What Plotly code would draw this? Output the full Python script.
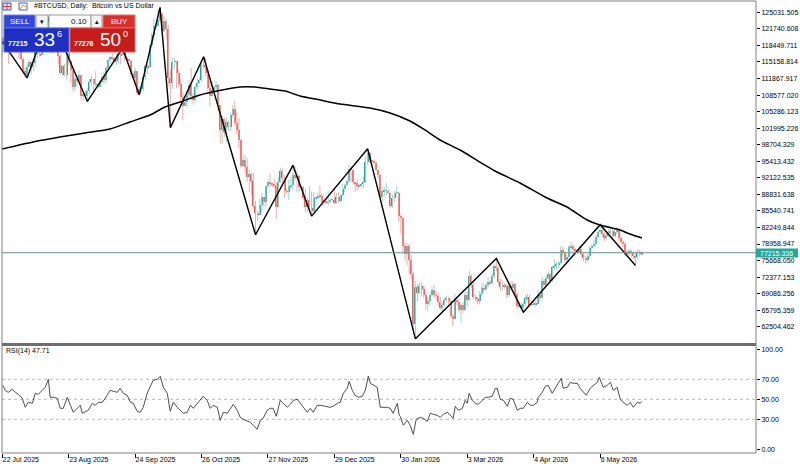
import plotly.graph_objects as go
import pandas as pd

# ---------------- data (prices in thousands of USD) ----------------
start_date = "2025-07-22"
first_open_k = 117.4

close_k = [
    # Jul 22-31 2025
    119.9,118.7,118.3,117.6,117.9,119.4,118.0,117.9,117.8,115.8,
    # Aug
    113.3,112.6,114.2,115.1,114.1,115.0,117.5,116.7,116.5,119.3,118.7,120.2,123.3,118.4,117.4,117.5,
    117.5,116.3,112.9,114.3,112.5,116.9,115.4,113.5,110.1,111.8,111.3,112.6,108.4,108.8,108.3,
    # Sep
    109.3,111.2,111.7,110.7,110.7,110.2,111.2,112.1,111.5,113.9,115.5,116.1,115.9,115.3,115.4,
    116.8,116.5,117.1,115.7,115.7,115.3,112.7,112.0,113.3,109.0,109.7,109.7,112.1,114.4,114.1,
    # Oct
    118.6,120.6,122.3,122.4,123.5,124.7,121.4,123.3,121.7,112.0,110.9,115.2,115.3,113.0,110.8,
    108.2,106.4,107.2,108.6,110.5,108.4,107.6,110.1,111.0,111.6,114.5,114.1,112.9,110.0,108.3,109.6,
    # Nov
    110.1,110.6,106.5,101.6,103.9,101.3,103.3,102.3,104.7,105.9,103.0,101.7,99.7,94.5,95.6,
    94.2,92.2,92.9,91.5,86.6,85.1,84.7,86.8,88.3,87.3,90.5,91.3,90.9,90.8,90.4,
    # Dec
    86.3,91.3,93.5,92.1,89.4,89.3,90.4,90.6,92.7,92.0,92.5,90.3,90.3,88.2,86.4,87.8,
    86.1,85.5,88.1,88.3,88.6,88.5,87.4,87.6,87.2,87.3,87.8,87.8,87.1,88.4,87.5,
    # Jan 2026
    88.7,89.9,90.6,91.4,93.9,93.7,91.3,91.0,90.5,90.4,90.8,91.2,95.3,97.0,95.6,95.5,
    95.1,93.6,92.6,88.3,89.4,89.5,89.5,89.2,86.6,88.2,89.1,89.2,84.5,84.1,78.6,
    # Feb
    76.9,78.6,75.7,73.0,63.0,70.5,69.3,70.6,70.1,68.8,67.0,67.6,68.9,69.8,
    68.8,68.7,67.5,66.3,66.9,67.9,68.2,67.6,64.7,64.1,67.9,67.5,65.9,66.8,
    # Mar
    65.8,68.9,67.9,72.6,70.8,68.5,68.0,67.6,69.0,70.3,70.0,70.8,71.5,71.2,72.5,74.6,
    74.1,71.5,70.4,70.9,70.6,68.8,70.7,70.3,71.0,69.0,66.6,66.9,66.3,67.0,68.2,
    # Apr
    68.5,66.9,67.0,67.3,67.0,68.9,68.2,71.6,70.9,72.2,73.0,71.7,74.3,74.6,74.8,
    75.1,77.7,77.1,75.8,76.4,78.3,78.5,78.0,77.6,77.4,77.9,76.9,76.2,75.7,76.5,
    # May 1-26
    78.1,78.6,79.0,80.3,81.4,81.7,80.9,80.2,80.6,81.2,81.5,80.6,81.3,
    81.8,80.1,79.4,79.0,77.4,77.0,77.5,77.1,76.6,76.3,77.4,76.9,77.215,
]

high_k = [
    120.2,120.1,119.5,118.4,118.3,119.8,119.8,119.3,118.8,118.9,
    116.1,114.0,114.8,115.7,115.1,115.7,117.6,117.9,117.6,119.3,122.3,120.3,123.7,124.5,119.2,117.9,
    118.6,117.6,116.8,114.6,114.8,117.4,117.0,115.6,113.6,112.4,112.6,113.4,112.6,108.9,109.5,
    109.9,111.8,112.5,111.7,113.4,110.9,111.6,112.9,113.2,114.3,115.6,116.3,116.8,116.1,116.8,
    117.0,117.3,117.9,117.5,116.3,115.8,115.4,113.3,114.0,113.4,110.3,110.0,112.4,114.5,114.8,
    118.6,121.0,123.9,122.8,125.7,126.0,125.0,124.2,123.7,122.5,113.5,115.9,116.0,115.4,113.6,
    111.9,109.2,107.5,109.4,111.6,114.0,109.0,110.5,112.0,111.9,115.0,116.2,116.0,113.6,111.5,111.2,
    110.5,111.2,110.8,106.6,104.5,104.1,104.0,103.4,105.0,106.6,107.4,105.3,104.0,99.8,96.8,
    96.6,96.0,93.8,93.1,93.1,87.5,85.6,88.0,89.2,88.3,90.6,91.9,93.0,91.2,92.0,
    91.0,92.3,94.1,94.0,92.7,90.0,91.7,92.3,94.6,94.4,93.5,92.8,90.6,90.5,90.0,88.2,
    90.3,89.4,89.3,88.6,89.1,90.6,88.9,87.9,88.0,89.5,87.9,88.0,90.3,89.1,89.2,
    88.9,90.9,90.9,91.8,94.7,94.4,93.7,91.3,91.9,90.9,91.2,92.4,96.3,97.9,97.2,95.9,
    95.6,95.5,93.8,92.8,90.4,90.3,91.1,89.8,89.2,88.8,89.5,90.4,89.3,84.8,84.2,
    79.3,79.2,79.0,76.9,73.4,71.5,71.0,71.2,71.3,70.7,69.3,68.4,69.5,70.5,
    70.9,69.6,69.1,68.4,67.3,68.3,68.7,68.4,67.8,65.0,69.0,68.5,68.1,67.2,
    67.3,69.5,69.4,73.6,73.0,71.3,68.9,68.5,69.6,71.2,70.9,71.2,72.4,71.8,73.0,75.1,
    76.1,74.5,72.0,71.6,71.2,71.0,71.3,71.6,71.6,71.2,69.3,67.6,67.3,67.6,68.9,
    69.1,68.9,67.6,67.8,67.7,69.8,69.6,72.4,72.0,72.7,73.4,73.2,74.7,75.9,75.4,
    75.6,78.5,78.4,77.4,76.9,78.8,79.5,78.9,78.3,77.9,78.6,78.3,77.4,76.6,77.0,
    78.6,79.0,79.8,80.7,82.0,82.8,82.1,81.4,81.0,82.0,82.4,81.9,81.8,
    82.3,82.0,80.5,79.8,79.4,77.9,78.0,77.9,77.6,77.2,77.9,77.8,77.6,
]

low_k = [
    116.1,117.3,117.4,114.7,117.2,117.8,117.4,116.9,115.8,115.6,
    112.7,112.0,112.0,114.1,112.7,113.4,114.3,115.9,116.2,116.5,118.1,118.2,118.9,117.2,116.8,117.2,
    117.3,114.7,112.7,112.4,112.4,111.7,114.6,111.0,109.4,109.3,110.4,110.9,107.5,107.5,108.1,
    107.3,108.7,110.6,109.3,110.2,110.0,110.1,110.7,110.8,110.9,113.4,114.8,115.4,115.0,114.5,
    114.8,114.8,116.5,115.2,115.5,115.2,112.0,111.6,111.1,108.7,108.6,109.2,109.3,111.6,112.7,
    113.9,118.0,119.3,121.6,122.2,123.1,120.6,121.1,119.7,110.5,102.1,109.8,113.7,109.9,110.2,
    107.5,103.6,106.4,106.1,107.5,107.5,106.7,107.3,109.7,110.7,111.3,113.8,112.2,109.3,106.3,108.6,
    109.4,109.6,105.3,98.9,98.9,100.3,99.3,101.5,101.4,104.2,102.5,100.8,98.0,94.0,94.3,
    93.0,91.3,89.3,88.6,86.1,80.8,83.5,84.6,85.3,86.2,86.4,90.1,90.2,90.3,90.3,
    83.9,86.2,91.1,91.0,88.1,88.9,87.7,89.6,89.6,91.6,89.3,89.5,89.8,87.6,85.2,85.3,
    85.4,84.5,85.1,87.9,87.6,87.9,86.6,86.5,86.9,86.6,87.2,87.4,86.8,86.9,87.1,
    87.2,88.4,89.3,90.5,91.1,91.3,90.8,89.3,89.6,90.3,90.2,90.0,91.0,94.6,95.0,94.4,
    94.9,93.5,91.9,87.9,87.3,88.5,88.6,88.9,86.1,86.1,87.3,88.8,83.4,81.1,77.0,
    75.6,74.6,72.9,72.2,62.0,60.1,67.5,68.9,68.5,68.2,65.9,65.6,66.7,68.6,
    68.2,67.9,66.7,65.8,65.6,66.5,67.4,67.0,64.2,62.7,63.9,66.8,65.3,63.3,
    65.2,65.6,66.5,67.6,70.2,67.9,67.5,67.0,66.9,68.6,69.4,69.5,70.3,70.7,70.9,72.2,
    73.6,70.9,69.6,69.8,70.1,68.3,68.4,69.7,69.9,68.6,66.1,66.2,65.8,65.4,66.4,
    67.6,66.3,66.5,66.8,66.6,66.9,67.6,68.0,70.3,70.6,71.8,71.2,71.5,73.8,73.9,
    74.1,74.9,76.5,75.3,75.0,75.9,77.6,77.1,77.0,77.0,77.2,76.5,75.6,75.1,75.3,
    76.2,77.8,78.3,78.6,80.0,80.8,80.3,79.5,79.9,80.3,80.8,80.1,80.2,
    80.9,79.5,79.0,78.3,76.8,76.3,76.6,76.4,75.9,74.7,75.9,76.5,76.7,
]

# moving average line (day offset from start, price k)
ma_day = [0,14.8,27.8,39.9,51.9,61.5,71.2,78.4,87.1,95.2,103.4,114.5,121.7,129.0,136.2,143.4,
          153.1,162.7,177.1,186.8,196.4,203.6,210.9,220.5,230.1,238.3,249.4,262.4,272.0,281.7,
          287.9,297.5,302.3,308.1]
ma_k = [97.85,99.24,100.23,101.03,101.82,103.22,104.61,106.20,107.40,108.59,109.38,110.18,110.18,
        109.78,109.38,108.39,107.59,106.80,106.00,105.01,103.41,101.63,99.64,97.65,95.26,93.27,
        91.09,88.10,86.31,83.73,82.73,81.74,80.95,80.15]

# zigzag pivots (day offset, price k)
zz_day = [0,12,23,41,58,66,76,81,97,122,140,149,176,199,238,251,288,305]
zz_k = [119.2,112.0,124.5,107.3,117.9,108.6,126.0,102.1,116.2,80.8,94.6,84.5,97.9,60.1,76.1,65.4,82.8,74.7]

# RSI(14) (day offset, value)
rsi_day = [0.3,1.4,2.9,4.8,6.3,7.7,9.6,11.1,12.5,14.5,15.9,17.3,19.3,20.7,22.2,23.1,24.6,26.5,27.9,29.4,
           31.3,32.8,34.2,36.1,37.6,38.5,40.0,41.4,43.4,44.8,46.2,48.2,49.6,52.0,53.5,55.4,56.8,58.3,60.2,
           61.7,63.1,65.0,66.5,67.9,69.8,71.3,72.7,74.7,76.1,77.6,79.5,80.9,82.4,84.3,85.7,87.2,89.1,90.6,
           92.0,93.9,95.4,96.8,98.7,100.2,101.6,103.6,105.0,106.5,108.4,109.8,111.3,113.2,114.6,116.1,
           118.0,119.5,120.9,122.8,124.3,125.7,127.6,129.1,130.5,132.0,133.9,135.4,137.3,138.7,140.2,
           142.1,143.5,145.0,146.9,148.4,149.8,151.7,153.2,155.6,158.0,159.4,161.4,162.8,164.3,166.2,
           167.1,168.6,170.0,171.5,173.4,174.9,176.3,177.3,178.7,180.6,182.1,183.5,185.5,186.9,188.3,
           190.3,191.2,191.7,193.2,195.1,196.5,198.0,199.4,201.3,202.8,204.7,206.2,207.6,209.5,211.0,
           212.4,214.4,215.8,217.2,218.2,219.7,221.6,223.0,224.0,224.9,226.4,227.8,229.3,231.2,232.7,
           234.1,236.0,237.5,238.4,239.9,241.4,243.3,244.7,246.1,248.1,249.5,251.0,252.9,254.3,255.8,
           257.7,258.2,260.1,261.6,263.0,264.9,266.4,267.8,269.3,270.2,272.2,273.6,275.0,277.0,278.4,
           279.9,281.3,283.2,284.7,286.6,287.6,289.5,291.4,292.9,294.3,296.2,297.7,299.1,301.1,302.5,
           304.0,305.9,307.3,308.0]
rsi_val = [64,59,57,60,57,55,51,42,47,46,56,55,59,62,70,52,52,51,41,41,
           52,44,37,41,44,36,38,39,46,44,47,47,51,59,58,57,61,56,54,
           47,46,38,37,42,56,62,69,70,73,62,56,38,47,42,39,36,37,44,
           41,46,49,53,49,41,44,42,29,37,36,40,45,39,32,30,
           28,27,24,20,29,31,39,41,41,33,49,46,42,45,49,
           50,46,42,37,41,37,44,44,43,42,43,46,47,56,61,
           68,59,54,52,53,59,73,66,64,62,42,42,42,41,36,
           46,34,33,24,29,24,15,30,32,31,28,36,35,34,32,
           35,37,34,31,43,39,41,49,46,56,49,46,45,49,52,
           52,53,61,61,50,49,43,51,50,39,41,41,47,44,44,
           47,52,57,63,64,56,62,66,71,61,62,67,66,66,61,
           57,54,61,64,67,72,62,64,67,59,62,50,47,44,47,
           42,47,46,47.71]

price_ticks = [125031.505,121740.608,118449.711,115158.814,111867.917,108577.020,105286.123,
               101995.226,98704.329,95413.432,92122.535,88831.638,85540.741,82249.844,78958.947,
               75668.050,72377.153,69086.256,65795.359,62504.462]
rsi_ticks = [100, 70, 50, 30, 0]
date_ticks = ["2025-07-22","2025-08-23","2025-09-24","2025-10-26","2025-11-27","2025-12-29",
              "2026-01-30","2026-03-03","2026-04-04","2026-05-06"]
date_labels = ["22 Jul 2025","23 Aug 2025","24 Sep 2025","26 Oct 2025","27 Nov 2025","29 Dec 2025",
               "30 Jan 2026","3 Mar 2026","4 Apr 2026","6 May 2026"]
bid_price = 77215.336
ask_price = 77276.500

# ---------------- build ----------------
start = pd.Timestamp(start_date)
n = len(close_k)
dates = pd.date_range(start, periods=n, freq="D")
C = [v * 1000 for v in close_k]
O = [first_open_k * 1000] + C[:-1]
H = [max(h * 1000, o, c) for h, o, c in zip(high_k, O, C)]
L = [min(l * 1000, o, c) for l, o, c in zip(low_k, O, C)]

UP_BODY, UP_WICK = "#26a69a", "#9fd6ce"
DN_BODY, DN_WICK = "#ef5350", "#f6aaa8"

fig = go.Figure()
for up in (True, False):
    wx, wy = [], []
    for d, o, h, l, c in zip(dates, O, H, L, C):
        if (c >= o) == up:
            wx += [d, d, None]
            wy += [l, h, None]
    fig.add_trace(go.Scatter(x=wx, y=wy, mode="lines", hoverinfo="skip",
                             line=dict(color=UP_WICK if up else DN_WICK, width=1),
                             xaxis="x", yaxis="y"))

base = [min(o, c) for o, c in zip(O, C)]
height = [max(abs(c - o), 60) for o, c in zip(O, C)]
cols = [UP_BODY if c >= o else DN_BODY for o, c in zip(O, C)]
fig.add_trace(go.Bar(x=dates, y=height, base=base, width=0.55 * 86400000,
                     marker=dict(color=cols, line=dict(width=0)), xaxis="x", yaxis="y"))

ma_x = [start + pd.Timedelta(days=d) for d in ma_day]
fig.add_trace(go.Scatter(x=ma_x, y=[v * 1000 for v in ma_k], mode="lines",
                         line=dict(color="#000000", width=1.5, shape="spline", smoothing=0.6),
                         xaxis="x", yaxis="y"))
zz_x = [start + pd.Timedelta(days=d) for d in zz_day]
fig.add_trace(go.Scatter(x=zz_x, y=[v * 1000 for v in zz_k], mode="lines",
                         line=dict(color="#000000", width=1.4), xaxis="x", yaxis="y"))
rsi_x = [start + pd.Timedelta(days=d) for d in rsi_day]
fig.add_trace(go.Scatter(x=rsi_x, y=rsi_val, mode="lines",
                         line=dict(color="#3a3a3a", width=0.9), xaxis="x2", yaxis="y2"))

# pixel helpers (plot area x 2..756, y 1..453)
def PX(x):
    return (x - 2) / 754.0

def PY(y):
    return (453 - y) / 452.0

xr = [start - pd.Timedelta(hours=3), start - pd.Timedelta(hours=3) + pd.Timedelta(days=754 / 2.076)]

shapes = []
annotations = []

# RSI level lines
for lv in (70, 50, 30):
    shapes.append(dict(type="line", xref="paper", yref="y2", x0=0, x1=1, y0=lv, y1=lv,
                       line=dict(color="#b8b8b8", width=1, dash="dot"), layer="below"))
# ask / bid lines (bid drawn last, on top)
shapes.append(dict(type="line", xref="paper", yref="y", x0=0, x1=1, y0=ask_price, y1=ask_price,
                   line=dict(color="#d98080", width=0.7)))
shapes.append(dict(type="line", xref="paper", yref="y", x0=0, x1=1, y0=bid_price, y1=bid_price,
                   line=dict(color="#5aa89e", width=0.9)))
# frame
shapes.append(dict(type="rect", xref="paper", yref="paper", x0=0, x1=1, y0=0, y1=1,
                   line=dict(color="#808080", width=1)))
shapes.append(dict(type="rect", xref="paper", yref="paper", x0=0, x1=1, y0=PY(346), y1=PY(343),
                   fillcolor="#6e6e6e", line=dict(width=0)))
# price label
shapes.append(dict(type="rect", xref="paper", yref="paper", x0=PX(756), x1=PX(798), y0=PY(257.5),
                   y1=PY(248.5), fillcolor="#26a69a", line=dict(width=0)))
annotations.append(dict(xref="paper", yref="paper", x=PX(758), y=PY(253), text="77215.336",
                        showarrow=False, xanchor="left", yanchor="middle",
                        font=dict(size=7, color="white")))

# header icons and title
shapes.append(dict(type="rect", xref="paper", yref="paper", x0=PX(3), x1=PX(11), y0=PY(10), y1=PY(3),
                   fillcolor="#dde3f5", line=dict(color="#3a56c0", width=1)))
shapes.append(dict(type="line", xref="paper", yref="paper", x0=PX(7), x1=PX(7), y0=PY(10), y1=PY(3),
                   line=dict(color="#d04040", width=1)))
shapes.append(dict(type="line", xref="paper", yref="paper", x0=PX(3), x1=PX(11), y0=PY(6.5), y1=PY(6.5),
                   line=dict(color="#d04040", width=1)))
shapes.append(dict(type="rect", xref="paper", yref="paper", x0=PX(19), x1=PX(27), y0=PY(10), y1=PY(3),
                   fillcolor="#ffffff", line=dict(color="#3a66c8", width=1)))
shapes.append(dict(type="path", xref="paper", yref="paper",
                   path=f"M {PX(20)} {PY(9)} L {PX(23)} {PY(5)} L {PX(26)} {PY(7)}",
                   line=dict(color="#e08a20", width=1)))
annotations.append(dict(xref="paper", yref="paper", x=PX(32), y=PY(6.5),
                        text="#BTCUSD, Daily:\u00a0\u00a0Bitcoin vs US Dollar", showarrow=False,
                        xanchor="left", yanchor="middle", font=dict(size=7, color="#000000")))

# trading panel
def box(x0, x1, y0, y1, fill, line="#9a9a9a"):
    shapes.append(dict(type="rect", xref="paper", yref="paper", x0=PX(x0), x1=PX(x1),
                       y0=PY(y1), y1=PY(y0), fillcolor=fill, line=dict(color=line, width=1)))

def txt(x, y, s, size, color="white", anchor="center"):
    annotations.append(dict(xref="paper", yref="paper", x=PX(x), y=PY(y), text=s, showarrow=False,
                            xanchor=anchor, yanchor="middle", font=dict(size=size, color=color)))

box(4, 35, 15, 28, "#3447d6", "#6f7fe6")
box(36, 48, 15, 28, "#f3f3f3")
box(49, 91, 15, 28, "#ffffff")
box(91, 102, 15, 28, "#f3f3f3")
box(103, 135, 15, 28, "#d8302c", "#e87070")
box(4, 69, 28, 52, "#1f2fc2", "#5b68d8")
box(70, 135, 28, 52, "#c61d1b", "#e06060")
txt(19.5, 21.5, "SELL", 8)
txt(119, 21.5, "BUY", 8)
txt(42, 21.5, "\u25be", 7, "#000000")
txt(96.5, 21.5, "\u25b4", 7, "#000000")
txt(89, 21.5, "0.10", 8, "#000000", "right")
txt(6, 44, "<b>77215</b>", 7, "white", "left")
txt(32, 40, "33", 19, "white", "left")
txt(55, 34.5, "6", 9, "white", "left")
txt(72, 44, "<b>77276</b>", 7, "white", "left")
txt(98, 40, "50", 19, "white", "left")
txt(121, 34.5, "0", 9, "white", "left")

# RSI caption
annotations.append(dict(xref="paper", yref="paper", x=PX(4), y=PY(351), text="RSI(14) 47.71",
                        showarrow=False, xanchor="left", yanchor="middle",
                        font=dict(size=7, color="#000000")))

fig.update_layout(
    width=800, height=464,
    margin=dict(l=2, r=44, t=1, b=11),
    paper_bgcolor="white", plot_bgcolor="white",
    showlegend=False, bargap=0,
    font=dict(family="Liberation Sans, Arial, sans-serif", size=7, color="#000000"),
    xaxis=dict(domain=[0, 1], anchor="y", type="date", range=xr, showticklabels=False,
               showgrid=False, zeroline=False, ticks="", showline=False, fixedrange=True),
    yaxis=dict(domain=[PY(344), 1], anchor="x", side="right", range=[59074, 127278],
               tickmode="array", tickvals=price_ticks, ticktext=[f"{v:.3f}" for v in price_ticks],
               ticks="outside", ticklen=3, tickcolor="#000000", tickwidth=1,
               showgrid=False, zeroline=False, showline=False, tickfont=dict(size=7)),
    xaxis2=dict(domain=[0, 1], anchor="y2", type="date", range=xr, matches="x",
                tickmode="array", tickvals=date_ticks, ticktext=date_labels,
                ticks="outside", ticklen=4, tickcolor="#000000", tickwidth=1,
                ticklabelposition="outside right", showgrid=False, zeroline=False,
                showline=False, tickfont=dict(size=7)),
    yaxis2=dict(domain=[0, PY(346)], anchor="x2", side="right", range=[-3.7, 103.3],
                tickmode="array", tickvals=rsi_ticks, ticktext=[f"{v:.2f}" for v in rsi_ticks],
                ticks="outside", ticklen=3, tickcolor="#000000", tickwidth=1,
                showgrid=False, zeroline=False, showline=False, tickfont=dict(size=7)),
    shapes=shapes,
    annotations=annotations,
)

fig.write_html("out.html")
